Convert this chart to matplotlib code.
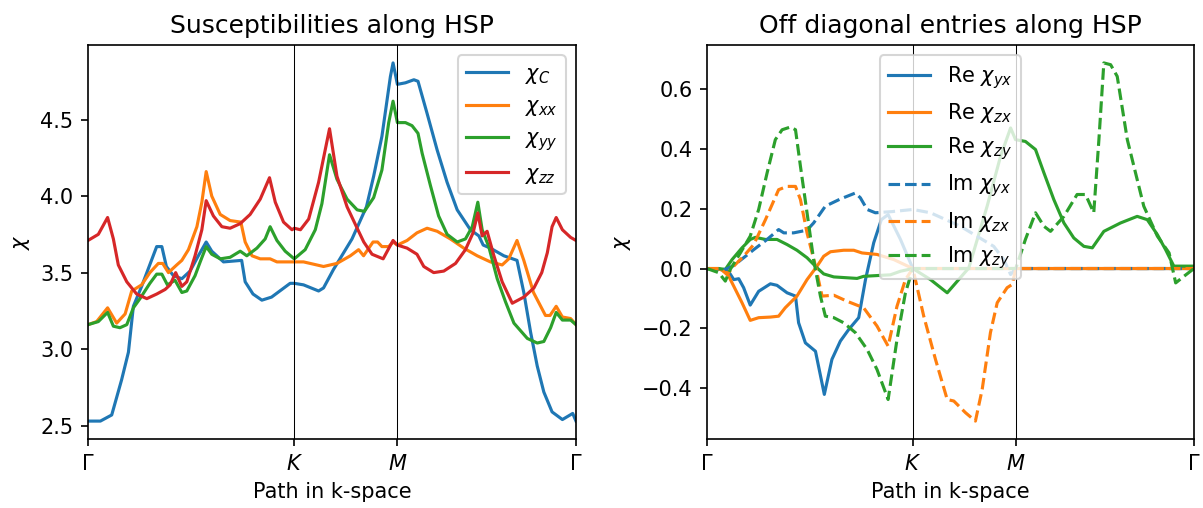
import matplotlib
matplotlib.use("Agg")
import matplotlib.pyplot as plt

# high symmetry points along the path (hexagonal BZ, |GK| = 1)
hsp_pos = [0.0, 1.0, 1.5, 2.366]
hsp_labels = [r'$\Gamma$', r'$K$', r'$M$', r'$\Gamma$']

# left panel: diagonal susceptibilities
k_c = [0, 0.06, 0.115, 0.163, 0.196, 0.22, 0.26, 0.333, 0.358, 0.38,
       0.414, 0.455, 0.495, 0.535, 0.573, 0.60, 0.657, 0.745, 0.762, 0.80,
       0.843, 0.89, 0.94, 0.98, 1.0, 1.045, 1.118, 1.142, 1.19, 1.28,
       1.35, 1.385, 1.425, 1.466, 1.479, 1.5, 1.539, 1.58, 1.60, 1.644,
       1.693, 1.741, 1.79, 1.854, 1.895, 1.916, 1.951, 2.016, 2.08, 2.113,
       2.146, 2.178, 2.21, 2.25, 2.30, 2.35, 2.366]
chi_c = [2.53, 2.53, 2.57, 2.80, 2.98, 3.28, 3.41, 3.67, 3.67, 3.54,
         3.48, 3.46, 3.51, 3.61, 3.70, 3.64, 3.57, 3.58, 3.44, 3.36,
         3.32, 3.34, 3.39, 3.43, 3.43, 3.42, 3.38, 3.40, 3.52, 3.72,
         3.93, 4.13, 4.39, 4.78, 4.87, 4.73, 4.74, 4.76, 4.75, 4.54,
         4.30, 4.09, 3.91, 3.78, 3.74, 3.68, 3.66, 3.61, 3.58, 3.37,
         3.11, 2.89, 2.72, 2.59, 2.54, 2.58, 2.53]

k_xx = [0, 0.042, 0.095, 0.139, 0.18, 0.212, 0.26, 0.30, 0.341, 0.362,
        0.39, 0.43, 0.455, 0.487, 0.528, 0.552, 0.573, 0.60, 0.641, 0.689,
        0.741, 0.762, 0.795, 0.835, 0.883, 0.916, 0.965, 1.0, 1.045, 1.142,
        1.207, 1.272, 1.312, 1.336, 1.382, 1.404, 1.425, 1.458, 1.479, 1.5,
        1.547, 1.595, 1.644, 1.693, 1.757, 1.822, 1.887, 1.951, 2.008, 2.04,
        2.08, 2.113, 2.16, 2.218, 2.24, 2.27, 2.30, 2.34, 2.366]
chi_xx = [3.16, 3.18, 3.27, 3.17, 3.23, 3.38, 3.42, 3.50, 3.56, 3.56,
          3.50, 3.55, 3.58, 3.65, 3.80, 3.96, 4.16, 4.00, 3.88, 3.84,
          3.83, 3.70, 3.61, 3.59, 3.59, 3.57, 3.57, 3.57, 3.57, 3.54,
          3.56, 3.61, 3.65, 3.61, 3.70, 3.70, 3.67, 3.67, 3.70, 3.68,
          3.71, 3.76, 3.79, 3.77, 3.72, 3.66, 3.61, 3.57, 3.55, 3.59,
          3.71, 3.58, 3.37, 3.22, 3.22, 3.28, 3.21, 3.20, 3.16]

k_yy = [0, 0.05, 0.095, 0.123, 0.155, 0.188, 0.22, 0.252, 0.30, 0.333,
        0.358, 0.385, 0.422, 0.455, 0.479, 0.519, 0.544, 0.573, 0.60, 0.641,
        0.689, 0.738, 0.77, 0.819, 0.859, 0.883, 0.916, 0.956, 1.0, 1.053,
        1.102, 1.134, 1.171, 1.207, 1.256, 1.305, 1.34, 1.385, 1.425, 1.458,
        1.479, 1.5, 1.539, 1.571, 1.60, 1.62, 1.66, 1.70, 1.741, 1.79,
        1.83, 1.863, 1.89, 1.911, 1.943, 1.984, 2.024, 2.065, 2.13, 2.178,
        2.21, 2.243, 2.27, 2.30, 2.34, 2.366]
chi_yy = [3.16, 3.18, 3.24, 3.15, 3.14, 3.16, 3.27, 3.33, 3.43, 3.49,
          3.49, 3.42, 3.45, 3.37, 3.38, 3.48, 3.57, 3.67, 3.62, 3.59,
          3.60, 3.64, 3.61, 3.66, 3.72, 3.80, 3.71, 3.64, 3.59, 3.65,
          3.78, 3.95, 4.27, 4.11, 3.98, 3.91, 3.90, 3.99, 4.17, 4.48,
          4.62, 4.48, 4.48, 4.46, 4.41, 4.28, 4.07, 3.87, 3.75, 3.70,
          3.72, 3.80, 3.96, 3.78, 3.67, 3.46, 3.31, 3.17, 3.07, 3.04,
          3.05, 3.14, 3.24, 3.19, 3.19, 3.16]

k_zz = [0, 0.05, 0.095, 0.123, 0.147, 0.188, 0.236, 0.285, 0.333, 0.374,
        0.398, 0.425, 0.455, 0.479, 0.519, 0.552, 0.573, 0.608, 0.649, 0.689,
        0.738, 0.786, 0.835, 0.88, 0.908, 0.948, 0.989, 1.0, 1.03, 1.07,
        1.118, 1.171, 1.207, 1.256, 1.305, 1.337, 1.377, 1.431, 1.479, 1.5,
        1.547, 1.595, 1.628, 1.676, 1.725, 1.782, 1.83, 1.867, 1.89, 1.911,
        1.935, 1.968, 2.008, 2.057, 2.113, 2.162, 2.20, 2.227, 2.25, 2.27,
        2.30, 2.34, 2.366]
chi_zz = [3.71, 3.75, 3.86, 3.72, 3.55, 3.44, 3.36, 3.33, 3.36, 3.39,
          3.42, 3.50, 3.41, 3.44, 3.61, 3.78, 3.97, 3.87, 3.80, 3.79,
          3.82, 3.88, 3.98, 4.12, 3.96, 3.83, 3.78, 3.79, 3.78, 3.85,
          4.09, 4.44, 4.13, 3.93, 3.79, 3.70, 3.62, 3.59, 3.71, 3.68,
          3.66, 3.62, 3.54, 3.50, 3.51, 3.56, 3.65, 3.76, 3.89, 3.74,
          3.77, 3.61, 3.44, 3.30, 3.34, 3.40, 3.50, 3.63, 3.80, 3.86,
          3.78, 3.73, 3.71]

# right panel: off diagonal entries
k_re_yx = [0, 0.065, 0.105, 0.13, 0.154, 0.178, 0.21, 0.251, 0.308, 0.34,
           0.389, 0.43, 0.445, 0.478, 0.527, 0.57, 0.607, 0.648, 0.689, 0.737,
           0.77, 0.81, 0.847, 0.88, 0.94, 1.0, 2.366]
re_yx = [0, -0.003, -0.01, -0.037, -0.034, -0.064, -0.122, -0.076, -0.051, -0.056,
         -0.081, -0.092, -0.181, -0.248, -0.276, -0.42, -0.303, -0.242, -0.203, -0.164,
         -0.037, 0.086, 0.163, 0.18, 0.097, 0, 0]

k_re_zx = [0, 0.065, 0.097, 0.13, 0.17, 0.21, 0.251, 0.308, 0.348, 0.38,
           0.437, 0.486, 0.535, 0.567, 0.6, 0.664, 0.713, 0.753, 0.826, 0.907,
           1.0, 2.366]
re_zx = [0, -0.003, -0.014, -0.059, -0.114, -0.173, -0.164, -0.162, -0.159, -0.131,
         -0.092, -0.037, 0.008, 0.041, 0.056, 0.061, 0.061, 0.052, 0.047, 0.03,
         0, 0]

k_re_zy = [0, 0.057, 0.089, 0.122, 0.17, 0.21, 0.235, 0.284, 0.34, 0.389,
           0.437, 0.486, 0.535, 0.567, 0.616, 0.729, 0.761, 0.891, 0.94, 1.0,
           1.086, 1.167, 1.272, 1.361, 1.426, 1.475, 1.499, 1.547, 1.596, 1.637,
           1.685, 1.734, 1.782, 1.831, 1.872, 1.928, 2.009, 2.09, 2.139, 2.188,
           2.228, 2.268, 2.317, 2.366]
re_zy = [0, 0, -0.003, 0.03, 0.069, 0.097, 0.104, 0.097, 0.097, 0.08,
         0.061, 0.036, 0.002, -0.018, -0.028, -0.033, -0.026, -0.021, -0.009, 0,
         -0.037, -0.081, 0.002, 0.208, 0.374, 0.469, 0.43, 0.424, 0.397, 0.319,
         0.23, 0.152, 0.102, 0.074, 0.069, 0.124, 0.152, 0.174, 0.163, 0.113,
         0.063, 0.008, 0.008, 0.008]

k_im_yx = [0, 0.089, 0.13, 0.178, 0.227, 0.292, 0.348, 0.373, 0.421, 0.486,
           0.518, 0.575, 0.648, 0.721, 0.745, 0.778, 0.818, 0.9, 1.0, 1.086,
           1.231, 1.393, 1.442, 1.475, 1.5, 2.366]
im_yx = [0, -0.003, 0.01, 0.036, 0.063, 0.097, 0.13, 0.119, 0.119, 0.128,
         0.152, 0.208, 0.232, 0.252, 0.236, 0.197, 0.186, 0.19, 0.197, 0.186,
         0.141, 0.074, 0.03, -0.02, 0, 0]

k_im_zx = [0, 0.065, 0.097, 0.13, 0.178, 0.227, 0.284, 0.348, 0.389, 0.43,
           0.454, 0.486, 0.527, 0.559, 0.616, 0.68, 0.761, 0.826, 0.88, 0.923,
           0.964, 1.0, 1.053, 1.11, 1.167, 1.199, 1.256, 1.304, 1.337, 1.377,
           1.41, 1.458, 1.483, 1.5, 2.366]
im_zx = [0, 0, -0.02, 0.008, 0.041, 0.08, 0.163, 0.263, 0.274, 0.274,
         0.23, 0.119, 0.008, -0.092, -0.089, -0.109, -0.131, -0.192, -0.259, -0.126,
         -0.037, 0, -0.159, -0.303, -0.437, -0.442, -0.481, -0.509, -0.403, -0.214,
         -0.114, -0.064, -0.053, 0, 0]

k_im_zy = [0, 0.057, 0.089, 0.113, 0.162, 0.21, 0.251, 0.292, 0.332, 0.365,
           0.405, 0.43, 0.454, 0.486, 0.518, 0.551, 0.575, 0.616, 0.664, 0.721,
           0.778, 0.826, 0.88, 0.923, 0.964, 1.0, 1.5, 1.547, 1.596, 1.637,
           1.669, 1.734, 1.798, 1.839, 1.879, 1.904, 1.928, 1.961, 1.993, 2.042,
           2.122, 2.188, 2.245, 2.277, 2.317, 2.366]
im_zy = [0, -0.014, -0.042, -0.003, 0.052, 0.108, 0.197, 0.319, 0.43, 0.463,
         0.472, 0.463, 0.341, 0.186, 0.03, -0.092, -0.159, -0.164, -0.181, -0.214,
         -0.27, -0.337, -0.437, -0.237, -0.081, 0, 0, 0.097, 0.186, 0.141,
         0.124, 0.174, 0.247, 0.247, 0.186, 0.43, 0.686, 0.68, 0.641, 0.43,
         0.208, 0.108, 0.052, -0.048, -0.026, 0]


def setup_path_axis(ax):
    ax.set_xlim(hsp_pos[0], hsp_pos[-1])
    ax.set_xticks(hsp_pos)
    ax.set_xticklabels(hsp_labels)
    for x in hsp_pos[1:-1]:
        ax.axvline(x, color='k', lw=0.5)
    ax.set_xlabel('Path in k-space')
    ax.set_ylabel(r'$\chi$')


fig = plt.figure(figsize=(1203 / 150, 508 / 150), dpi=150)
ax1 = fig.add_axes([88 / 1203, 1 - 439 / 508, 488 / 1203, 394 / 508])
ax2 = fig.add_axes([707 / 1203, 1 - 439 / 508, 487 / 1203, 394 / 508])

# diagonal
ax1.plot(k_c, chi_c, label=r'$\chi_C$')
ax1.plot(k_xx, chi_xx, label=r'$\chi_{xx}$')
ax1.plot(k_yy, chi_yy, label=r'$\chi_{yy}$')
ax1.plot(k_zz, chi_zz, label=r'$\chi_{zz}$')
setup_path_axis(ax1)
ax1.set_title('Susceptibilities along HSP')
ax1.legend(loc='upper right')

# off diagonal
ax2.plot(k_re_yx, re_yx, color='C0', label=r'Re $\chi_{yx}$')
ax2.plot(k_re_zx, re_zx, color='C1', label=r'Re $\chi_{zx}$')
ax2.plot(k_re_zy, re_zy, color='C2', label=r'Re $\chi_{zy}$')
ax2.plot(k_im_yx, im_yx, '--', color='C0', label=r'Im $\chi_{yx}$')
ax2.plot(k_im_zx, im_zx, '--', color='C1', label=r'Im $\chi_{zx}$')
ax2.plot(k_im_zy, im_zy, '--', color='C2', label=r'Im $\chi_{zy}$')
setup_path_axis(ax2)
ax2.set_title('Off diagonal entries along HSP')
ax2.legend(loc='upper center')

fig.savefig('out.png', dpi=150)
